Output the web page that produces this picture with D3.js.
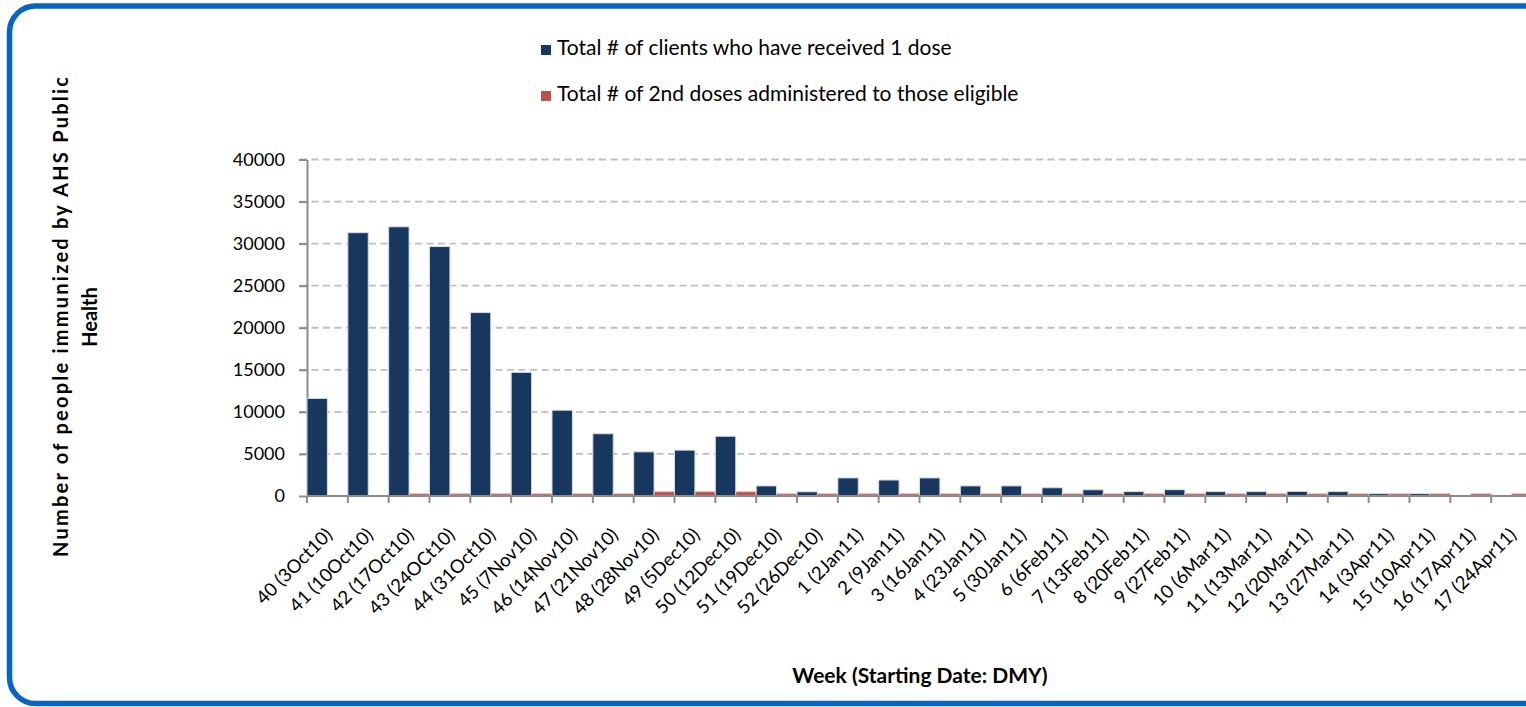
<!DOCTYPE html>
<html>
<head>
<meta charset="utf-8">
<script src="https://d3js.org/d3.v7.min.js"></script>
<style>
body { margin: 0; padding: 0; background: #fff; overflow: hidden; }
text { font-family: Lato, "Open Sans", sans-serif; fill: #000; }
</style>
</head>
<body>
<script>
// week labels (week number + starting date)
var weeks = ["40 (3Oct10)", "41 (10Oct10)", "42 (17Oct10)", "43 (24OCt10)", "44 (31Oct10)",
    "45 (7Nov10)", "46 (14Nov10)", "47 (21Nov10)", "48 (28Nov10)", "49 (5Dec10)",
    "50 (12Dec10)", "51 (19Dec10)", "52 (26Dec10)", "1 (2Jan11)", "2 (9Jan11)",
    "3 (16Jan11)", "4 (23Jan11)", "5 (30Jan11)", "6 (6Feb11)", "7 (13Feb11)",
    "8 (20Feb11)", "9 (27Feb11)", "10 (6Mar11)", "11 (13Mar11)", "12 (20Mar11)",
    "13 (27Mar11)", "14 (3Apr11)", "15 (10Apr11)", "16 (17Apr11)", "17 (24Apr11)"];

var firstDose = [11600, 31300, 32000, 29650, 21800, 14700, 10200, 7400, 5250, 5450,
    7100, 1200, 500, 2150, 1900, 2150, 1200, 1200, 980, 740,
    520, 750, 520, 520, 550, 520, 280, 280, 0, 0];

var secondDose = [0, 0, 270, 270, 270, 270, 270, 270, 520, 520,
    520, 270, 270, 270, 270, 270, 270, 270, 270, 270,
    270, 270, 270, 270, 270, 270, 270, 270, 270, 270];

var seriesNames = ["Total # of clients who have received 1 dose",
    "Total # of 2nd doses administered to those eligible"];
var seriesColors = ["#17375e", "#c0504d"];
var yTicks = [0, 5000, 10000, 15000, 20000, 25000, 30000, 35000, 40000];

var width = 1526, height = 707;

var svg = d3.select("body").append("svg")
    .attr("width", width)
    .attr("height", height);

// rounded frame (right side runs off the picture)
svg.append("rect")
    .attr("x", 9.5).attr("y", 6)
    .attr("width", 1600).attr("height", 697.5)
    .attr("rx", 26).attr("ry", 26)
    .attr("fill", "none")
    .attr("stroke", "#0a64c4")
    .attr("stroke-width", 5.5);

var x = d3.scaleBand().domain(weeks).range([307, 1532]).padding(0);
var sub = d3.scaleBand().domain([0, 1]).range([0, x.bandwidth()]).padding(0);
var y = d3.scaleLinear().domain([0, 40000]).range([496, 159.5]);

// dashed gridlines
svg.append("g").selectAll("line")
    .data(yTicks.filter(d => d > 0))
    .enter().append("line")
    .attr("x1", 300).attr("x2", width)
    .attr("y1", d => y(d)).attr("y2", d => y(d))
    .attr("stroke", "#bfbfbf")
    .attr("stroke-width", 1.8)
    .attr("stroke-dasharray", "7,4.5");

// y axis
var yAxis = svg.append("g")
    .attr("transform", "translate(307,0)")
    .call(d3.axisLeft(y).tickValues(yTicks).tickSize(8).tickSizeOuter(0).tickPadding(14).tickFormat(d3.format("d")));
yAxis.select(".domain").attr("stroke", "#8c8c8c").attr("stroke-width", 2);
yAxis.selectAll(".tick line").attr("stroke", "#8c8c8c").attr("stroke-width", 2);
yAxis.selectAll(".tick text").style("font-size", "18px").style("font-family", "Lato");

// bars
var groups = svg.append("g").selectAll("g")
    .data(weeks)
    .enter().append("g")
    .attr("transform", d => "translate(" + x(d) + ",0)");

groups.append("rect")
    .attr("x", sub(0))
    .attr("width", sub.bandwidth())
    .attr("y", (d, i) => y(firstDose[i]))
    .attr("height", (d, i) => y(0) - y(firstDose[i]))
    .attr("fill", seriesColors[0])
    .attr("stroke", "#d5dde8")
    .attr("stroke-width", (d, i) => firstDose[i] > 0 ? 1 : 0);

groups.append("rect")
    .attr("x", sub(1))
    .attr("width", sub.bandwidth())
    .attr("y", (d, i) => y(secondDose[i]))
    .attr("height", (d, i) => y(0) - y(secondDose[i]))
    .attr("fill", seriesColors[1])
    .attr("stroke", "#efc2c1")
    .attr("stroke-width", (d, i) => secondDose[i] > 0 ? 1 : 0);

// x axis line and ticks at category boundaries
var xAxis = svg.append("g");
xAxis.append("line")
    .attr("x1", 307).attr("x2", 1532)
    .attr("y1", 496).attr("y2", 496)
    .attr("stroke", "#8c8c8c").attr("stroke-width", 2);
xAxis.selectAll(".xt")
    .data(weeks)
    .enter().append("line")
    .attr("class", "xt")
    .attr("x1", d => x(d)).attr("x2", d => x(d))
    .attr("y1", 496).attr("y2", 503)
    .attr("stroke", "#8c8c8c").attr("stroke-width", 2);

xAxis.selectAll(".xl")
    .data(weeks)
    .enter().append("text")
    .attr("class", "xl")
    .attr("text-anchor", "end")
    .attr("transform", d => "translate(" + (x(d) + x.bandwidth() / 2 + 6) + ",536)rotate(-45)")
    .style("font-size", "18.5px")
    .text(d => d);

// axis titles
svg.append("text")
    .attr("text-anchor", "middle")
    .attr("transform", "translate(68,317)rotate(-90)")
    .attr("textLength", 480)
    .attr("lengthAdjust", "spacing")
    .style("font-size", "20px")
    .style("font-weight", "bold")
    .text("Number of people immunized by AHS Public");

svg.append("text")
    .attr("text-anchor", "middle")
    .attr("transform", "translate(97,317)rotate(-90)")
    .style("font-size", "20px")
    .style("font-weight", "bold")
    .text("Health");

svg.append("text")
    .attr("x", 920).attr("y", 683)
    .attr("text-anchor", "middle")
    .style("font-size", "21px")
    .style("font-weight", "bold")
    .text("Week (Starting Date: DMY)");

// legend
var legend = svg.append("g").selectAll("g")
    .data(seriesNames)
    .enter().append("g")
    .attr("transform", (d, i) => "translate(541," + (i === 0 ? 55 : 101) + ")");

legend.append("rect")
    .attr("x", 0).attr("y", -10)
    .attr("width", 10).attr("height", 10)
    .attr("fill", (d, i) => seriesColors[i]);

legend.append("text")
    .attr("x", 16).attr("y", 0)
    .style("font-size", "21px")
    .text(d => d);
</script>
</body>
</html>
